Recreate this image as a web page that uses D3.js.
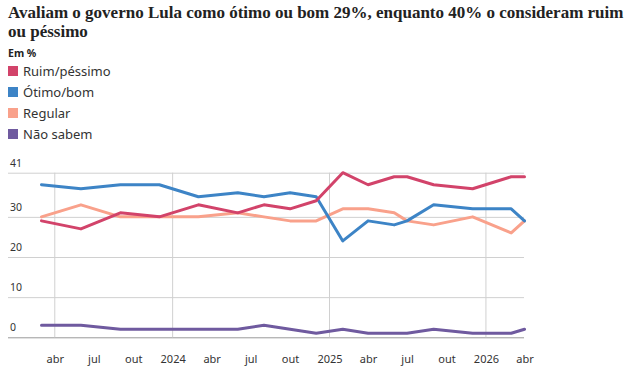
<!DOCTYPE html>
<html>
<head>
	<meta charset="utf-8">
	<title>Avaliação do governo Lula</title>
	<script src="https://d3js.org/d3.v7.min.js"></script>
	<style>
		body{margin:0;background:#fff;}
		text{font-family:'Noto Sans',sans-serif;fill:#333;}
		.title{font-family:'Liberation Serif',serif;font-weight:bold;font-size:18px;fill:#222;}
		.sub{font-size:10.5px;font-weight:bold;fill:#222;}
		.leg{font-size:13px;}
		.ytick text{font-size:10.5px;}
		.xtick text{font-size:11px;}
	</style>
</head>
<body>
	<div class="chart"></div>
	<script>
		// Datafolha, por mês da pesquisa
		const months = ['2023-03','2023-06','2023-09','2023-12','2024-03','2024-06','2024-08','2024-10','2024-12',
			'2025-02','2025-04','2025-06','2025-07','2025-09','2025-12','2026-03','2026-04'];
		const ruim    = [29,27,31,30,33,31,33,32,34,41,38,40,40,38,37,40,40];
		const otimo   = [38,37,38,38,35,36,35,36,35,24,29,28,29,33,32,32,29];
		const regular = [30,33,30,30,30,31,30,29,29,32,32,31,29,28,30,26,29];
		const naoSabe = [3,3,2,2,2,2,3,2,1,2,1,1,1,2,1,1,2];

		const seriesNames = ['Ruim/péssimo','Ótimo/bom','Regular','Não sabem'];
		const seriesColors = ['#d2436a','#3d84c6','#f9a18b','#6f5a9f'];
		const yTicks = [0,10,20,30,41];
		const xTicks = ['2023-04','2023-07','2023-10','2024-01','2024-04','2024-07','2024-10','2025-01',
			'2025-04','2025-07','2025-10','2026-01','2026-04'];
		const xGrid = ['2023-04','2024-01','2025-01','2026-01'];
		const monthNames = {4:'abr',7:'jul',10:'out'};

		const parse = d3.timeParse('%Y-%m');
		const svg = d3.select('.chart').append('svg').attr('width',635).attr('height',388);

		const titles = svg.append('g').selectAll('text')
			.data(['Avaliam o governo Lula como ótimo ou bom 29%, enquanto 40% o consideram ruim','ou péssimo'])
			.join('text').attr('class','title').attr('x',8).attr('y',(d,i)=>18+i*19).text(d=>d);
		// shrink so the first line ends where the original does (x ~ 627)
		const w = titles.node().getComputedTextLength();
		titles.style('font-size',(18*Math.min(1,616/w))+'px');
		svg.append('text').attr('class','sub').attr('x',8).attr('y',56.5).text('Em %');

		const legend = svg.append('g').selectAll('g').data(seriesNames).join('g')
			.attr('transform',(d,i)=>`translate(8,${71+i*21})`);
		legend.append('rect').attr('x',0).attr('y',-5).attr('width',10).attr('height',10)
			.attr('fill',(d,i)=>seriesColors[i]);
		legend.append('text').attr('class','leg').attr('x',15).attr('y',4.5).text(d=>d);

		const x = d3.scaleTime().domain([parse('2023-03'),parse('2026-04')]).range([41.5,524.5]);
		const y = d3.scaleLinear().domain([0,41]).range([337.3,172.7]);

		// horizontal grid + labels
		const yAxis = svg.append('g').attr('class','ytick').attr('transform','translate(8,0)')
			.call(d3.axisRight(y).tickValues(yTicks).tickSize(516).tickFormat(d3.format('d')));
		yAxis.select('.domain').remove();
		yAxis.selectAll('.tick line').attr('stroke','#d0d0d0');
		yAxis.selectAll('.tick').filter(d=>d===0).select('line').attr('stroke','#999');
		yAxis.selectAll('.tick text').attr('x',2).attr('dy',-6.5);

		// vertical grid
		svg.append('g').selectAll('line').data(xGrid).join('line')
			.attr('x1',d=>x(parse(d))).attr('x2',d=>x(parse(d)))
			.attr('y1',y(41)).attr('y2',y(0)).attr('stroke','#d0d0d0');

		const xAxis = svg.append('g').attr('class','xtick').attr('transform',`translate(0,${y(0)})`)
			.call(d3.axisBottom(x).tickValues(xTicks.map(parse)).tickSize(0).tickPadding(18)
				.tickFormat(d=>d.getMonth()===0 ? d.getFullYear() : monthNames[d.getMonth()+1]));
		xAxis.select('.domain').remove();

		const dates = months.map(parse);
		const series = [naoSabe,regular,otimo,ruim];
		const colors = [seriesColors[3],seriesColors[2],seriesColors[1],seriesColors[0]];
		const line = d3.line().x((d,i)=>x(dates[i])).y(d=>y(d));
		svg.append('g').selectAll('path').data(series).join('path')
			.attr('d',line).attr('fill','none')
			.attr('stroke',(d,i)=>colors[i]).attr('stroke-width',3)
			.attr('stroke-linejoin','round').attr('stroke-linecap','round');
	</script>
</body>
</html>
